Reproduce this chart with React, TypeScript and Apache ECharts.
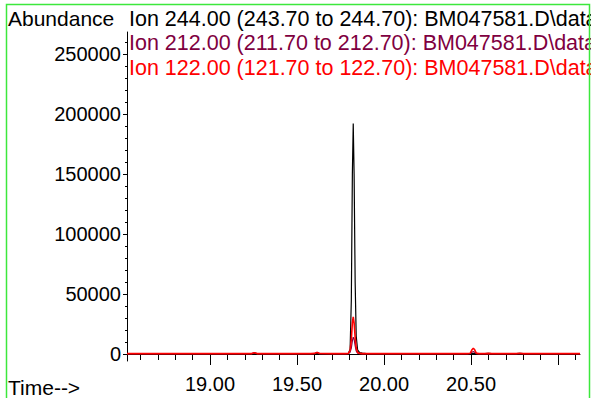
import React, { useEffect, useRef } from "react";
import * as echarts from "echarts";

const times = [18.523, 18.6, 18.8, 19.0, 19.2, 19.24, 19.255, 19.27, 19.4, 19.58, 19.6, 19.615, 19.63, 19.7, 19.78, 19.795, 19.805, 19.812, 19.818, 19.823, 19.828, 19.834, 19.84, 19.848, 19.86, 19.875, 19.9, 20.1, 20.3, 20.48, 20.495, 20.505, 20.513, 20.521, 20.53, 20.545, 20.58, 20.6, 20.62, 20.7, 20.76, 20.78, 20.8, 20.9, 21.0, 21.126];
const ion244 = [300, 300, 300, 300, 300, 300, 350, 300, 300, 300, 350, 600, 350, 300, 300, 450, 4000, 45000, 150000, 192000, 150000, 60000, 15000, 3500, 1200, 700, 400, 300, 300, 300, 300, 350, 400, 350, 300, 300, 300, 600, 300, 300, 300, 600, 300, 300, 300, 300];
const ion212 = [250, 250, 250, 250, 250, 300, 1300, 300, 250, 250, 350, 1400, 350, 250, 250, 300, 1500, 5000, 11000, 14000, 12500, 7000, 2500, 800, 400, 300, 250, 250, 250, 250, 350, 1500, 2000, 1500, 350, 250, 250, 300, 250, 250, 250, 350, 250, 250, 250, 250];
const ion122 = [300, 300, 300, 300, 300, 350, 1100, 350, 300, 300, 500, 1200, 450, 300, 300, 500, 3000, 12000, 26000, 31000, 26000, 14000, 5000, 1200, 500, 350, 300, 300, 300, 300, 600, 3500, 4800, 3500, 700, 300, 300, 500, 300, 300, 300, 600, 300, 300, 300, 300];

const seriesNames = [
  "Ion 244.00 (243.70 to 244.70): BM047581.D\\data",
  "Ion 212.00 (211.70 to 212.70): BM047581.D\\data",
  "Ion 122.00 (121.70 to 122.70): BM047581.D\\data",
];
const seriesColors = ["#000000", "#800040", "#ff0000"];

const xMajorTicks = [19.0, 19.5, 20.0, 20.5, 21.0];
const xLabels = [19.0, 19.5, 20.0, 20.5];
const xMinorTicks = [18.6, 18.7, 18.8, 18.9, 19.1, 19.2, 19.3, 19.4, 19.6, 19.7, 19.8, 19.9, 20.1, 20.2, 20.3, 20.4, 20.6, 20.7, 20.8, 20.9, 21.1];
const yMajorTicks = [0, 50000, 100000, 150000, 200000, 250000];
const yMinorTicks = [10000, 20000, 30000, 40000, 60000, 70000, 80000, 90000, 110000, 120000, 130000, 140000, 160000, 170000, 180000, 190000, 210000, 220000, 230000, 240000, 260000];

const FONT = "Liberation Sans";

export default function App() {
  const ref = useRef<HTMLDivElement>(null);
  useEffect(() => {
    if (!ref.current) return;
    const chart = echarts.init(ref.current, undefined, { renderer: "svg" });
    const xMin = 18.523;
    const xMax = 21.126;
    const yMin = -5833;
    const yMax = 268333;
    const mkX = (i: number, ticks: number[], len: number, labels: number[] | null) => ({
      type: "value",
      gridIndex: 0,
      position: "bottom",
      min: xMin,
      max: xMax,
      axisLine: { show: i === 0, lineStyle: { color: "#000", width: 1 } },
      axisTick: { show: true, length: len, customValues: ticks, lineStyle: { color: "#000", width: 1 } },
      axisLabel: labels
        ? { show: true, customValues: labels, formatter: (v: number) => v.toFixed(2), color: "#000", fontSize: 20, fontFamily: FONT, margin: 13 }
        : { show: false },
      splitLine: { show: false },
    });
    const mkY = (i: number, ticks: number[], len: number, labels: number[] | null) => ({
      type: "value",
      gridIndex: 0,
      position: "left",
      min: yMin,
      max: yMax,
      axisLine: { show: i === 0, lineStyle: { color: "#000", width: 1 } },
      axisTick: { show: true, length: len, customValues: ticks, lineStyle: { color: "#000", width: 1 } },
      axisLabel: labels
        ? { show: true, customValues: labels, formatter: (v: number) => String(v), color: "#000", fontSize: 20, fontFamily: FONT, margin: 6 }
        : { show: false },
      splitLine: { show: false },
    });
    const dataSets = [ion244, ion212, ion122];
    chart.setOption({
      animation: false,
      backgroundColor: "#fff",
      grid: { left: 127, right: 11, top: 32, bottom: 37, containLabel: false },
      xAxis: [mkX(0, xMajorTicks, 11, xLabels), mkX(1, xMinorTicks, 6, null)],
      yAxis: [mkY(0, yMajorTicks, 4, yMajorTicks), mkY(1, yMinorTicks, 2, null)],
      series: dataSets.map((vals, k) => ({
        name: seriesNames[k],
        type: "line",
        xAxisIndex: 0,
        yAxisIndex: 0,
        showSymbol: false,
        symbol: "none",
        silent: true,
        lineStyle: { color: seriesColors[k], width: k === 2 ? 1.6 : 1.2 },
        data: times.map((t, i) => [t, vals[i]]),
        z: 2 + k,
      })),
      graphic: [
        {
          type: "rect",
          shape: { x: 6.5, y: 4.5, width: 583, height: 420 },
          style: { fill: "none", stroke: "#3ce83c", lineWidth: 1.5 },
          z: 100,
          silent: true,
        },
        {
          type: "text",
          x: 8,
          y: 18.5,
          style: { text: "Abundance", fill: "#000", font: `21px '${FONT}'`, verticalAlign: "middle" },
        },
        ...seriesNames.map((n, k) => ({
          type: "text",
          x: 129,
          y: 18.5 + k * 24.5,
          style: { text: n, fill: seriesColors[k], font: `21.5px '${FONT}'`, verticalAlign: "middle" },
        })),
        {
          type: "text",
          x: 8,
          y: 387,
          style: { text: "Time-->", fill: "#000", font: `21px '${FONT}'`, verticalAlign: "middle" },
        },
      ],
    });
    return () => chart.dispose();
  }, []);
  return (
    <div
      ref={ref}
      style={{ position: "fixed", left: 0, top: 0, width: 591, height: 398, overflow: "hidden" }}
    />
  );
}
